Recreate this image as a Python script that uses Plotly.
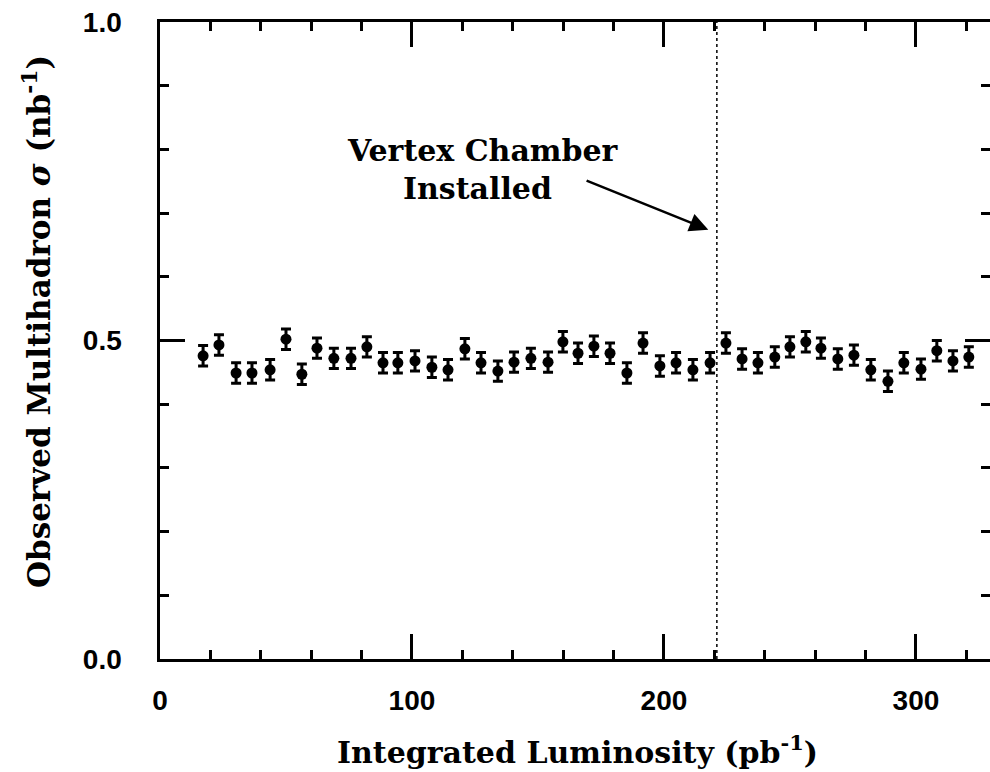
import plotly.graph_objects as go

# Integrated luminosity (pb^-1) at each measurement
lumi = [17.1, 23.4, 30.2, 36.5, 43.7, 50.0, 56.3, 62.3, 69.0, 75.8, 82.1, 88.5,
        94.4, 101.2, 107.9, 114.3, 121.0, 127.4, 134.1, 140.5, 147.2, 154.0, 159.9, 165.9,
        172.2, 178.6, 185.3, 191.7, 198.4, 204.8, 211.5, 218.3, 224.6, 231.0, 237.3, 244.0,
        250.0, 256.3, 262.3, 269.0, 275.4, 282.1, 288.9, 295.2, 302.0, 308.3, 314.7, 321.0]
# Observed multihadron cross section (nb^-1)
sigma = [0.476, 0.493, 0.449, 0.449, 0.454, 0.502, 0.447, 0.488, 0.472, 0.472, 0.490, 0.465,
         0.465, 0.468, 0.458, 0.454, 0.487, 0.465, 0.452, 0.466, 0.472, 0.466, 0.498, 0.480,
         0.491, 0.480, 0.449, 0.496, 0.460, 0.465, 0.454, 0.465, 0.496, 0.471, 0.465, 0.474,
         0.490, 0.498, 0.488, 0.471, 0.477, 0.454, 0.436, 0.465, 0.455, 0.484, 0.468, 0.474]
sigma_err = [0.016] * len(sigma)

vc_install = 221
x_range = [0, 329.4]
y_range = [0, 1]

serif = "DejaVu Serif"
sans = "Liberation Sans"

fig = go.Figure()
fig.add_trace(go.Scatter(
    x=lumi, y=sigma, mode="markers",
    marker=dict(color="black", size=11, symbol="circle"),
    error_y=dict(type="data", array=sigma_err, color="black", thickness=3, width=5),
    showlegend=False,
))
# dummy trace to activate right-side tick axis
fig.add_trace(go.Scatter(x=[None], y=[None], yaxis="y2", showlegend=False))

fig.add_shape(type="line", x0=vc_install, x1=vc_install, y0=0, y1=1,
              xref="x", yref="y", line=dict(color="black", width=1.5, dash="dot"))

fig.add_annotation(x=128.2, y=0.798, text="Vertex Chamber", showarrow=False,
                   font=dict(family=serif, size=30, color="black", weight="bold"))
fig.add_annotation(x=126.2, y=0.739, text="Installed", showarrow=False,
                   font=dict(family=serif, size=30, color="black", weight="bold"))
fig.add_annotation(x=217.6, y=0.674, ax=168.7, ay=0.752, axref="x", ayref="y",
                   text="", showarrow=True, arrowhead=2, arrowsize=1.5, arrowwidth=2.5,
                   arrowcolor="black")

fig.add_annotation(xref="paper", yref="paper", x=(577 - 160) / 830, y=-(750 - 659) / 637,
                   xanchor="center", yanchor="middle",
                   text="Integrated Luminosity (pb<sup>-1</sup>)", showarrow=False,
                   font=dict(family=serif, size=30, color="black", weight="bold"))
fig.add_annotation(xref="paper", yref="paper", x=-(160 - 37) / 830, y=(659 - 322) / 637,
                   xanchor="center", yanchor="middle",
                   text="Observed Multihadron <i>σ</i> (nb<sup>-1</sup>)", showarrow=False,
                   textangle=-90,
                   font=dict(family=serif, size=31, color="black", weight="bold"))

axis_common = dict(
    showgrid=False, zeroline=False, ticks="inside", tickwidth=3, tickcolor="black",
    linecolor="black", linewidth=3, ticklen=25,
    tickfont=dict(family=sans, size=28, color="black", weight="bold"),
)

fig.update_layout(
    width=990, height=772,
    margin=dict(l=160, r=0, t=22, b=113),
    paper_bgcolor="white", plot_bgcolor="white",
    xaxis=dict(range=x_range, dtick=100, tick0=0, showline=True, mirror="ticks",
               minor=dict(dtick=20, tick0=0, ticks="inside", ticklen=9, tickwidth=3,
                          tickcolor="black"),
               ticklabelstandoff=14, **axis_common),
    yaxis=dict(range=y_range, dtick=0.5, tick0=0, tickformat=".1f", showline=True,
               ticksuffix="\u2009",
               minor=dict(dtick=0.1, tick0=0, ticks="inside", ticklen=9, tickwidth=3,
                          tickcolor="black"),
               ticklabelstandoff=24, **axis_common),
    yaxis2=dict(range=y_range, overlaying="y", side="right", dtick=0.5, tick0=0,
                showline=False, showticklabels=False, showgrid=False, zeroline=False,
                ticks="inside", ticklen=25, tickwidth=3, tickcolor="black",
                minor=dict(dtick=0.1, tick0=0, ticks="inside", ticklen=9, tickwidth=3,
                           tickcolor="black")),
)

fig.write_html("out.html")
